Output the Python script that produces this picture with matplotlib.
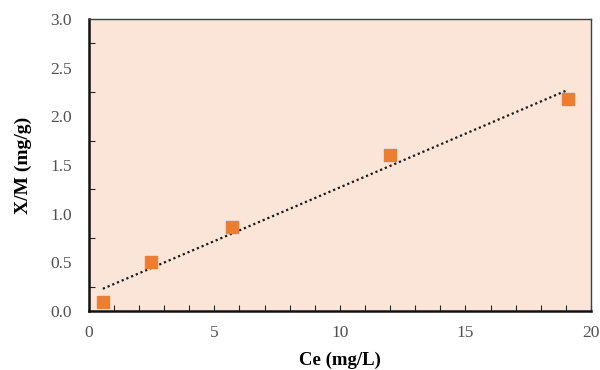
import matplotlib
matplotlib.use("Agg")
import matplotlib.pyplot as plt
import numpy as np
from matplotlib.ticker import MultipleLocator

plt.rcParams['font.family'] = ['Liberation Serif', 'DejaVu Serif']

ce = [0.56, 2.48, 5.70, 12.0, 19.08]
xm = [0.09, 0.50, 0.86, 1.60, 2.18]
x_label = "Ce (mg/L)"
y_label = "X/M (mg/g)"

fig = plt.figure(figsize=(6, 3.7), dpi=100)
ax = fig.add_axes([0.148, 0.159, 0.837, 0.79])
ax.set_facecolor('#FAE5D8')

slope, intercept = np.polyfit(ce, xm, 1)
xs = np.array([min(ce), max(ce)])
ax.plot(xs, slope * xs + intercept, linestyle=(0, (1, 1.3)), color='#1a1a1a', linewidth=1.6, zorder=2)
ax.plot(ce, xm, linestyle='none', marker='s', markersize=8, color='#ED7D31', zorder=3)

ax.set_xlim(0, 20)
ax.set_ylim(0, 3.0)
ax.xaxis.set_major_locator(MultipleLocator(5))
ax.xaxis.set_minor_locator(MultipleLocator(1))
ax.yaxis.set_major_locator(MultipleLocator(0.5))
ax.yaxis.set_minor_locator(MultipleLocator(0.25))
ax.yaxis.set_major_formatter(matplotlib.ticker.FormatStrFormatter('%.1f'))

ax.tick_params(which='both', direction='in', colors='#262626', labelcolor='#505050', labelsize=12.5)
ax.tick_params(axis='y', which='major', length=0)
ax.tick_params(axis='x', which='major', length=4, width=0.8)
ax.tick_params(which='minor', length=4, width=0.8)
ax.tick_params(axis='x', which='major', pad=10)
ax.tick_params(axis='y', which='major', pad=12)

for s in ['left', 'bottom']:
    ax.spines[s].set_linewidth(1.8)
    ax.spines[s].set_color('#111111')
for s in ['top', 'right']:
    ax.spines[s].set_linewidth(1.0)
    ax.spines[s].set_color('#404040')

ax.set_xlabel(x_label, fontsize=13.5, fontweight='bold', labelpad=7.5)
ax.set_ylabel(y_label, fontsize=14, fontweight='bold', labelpad=13)

fig.savefig('out.png', dpi=100)
